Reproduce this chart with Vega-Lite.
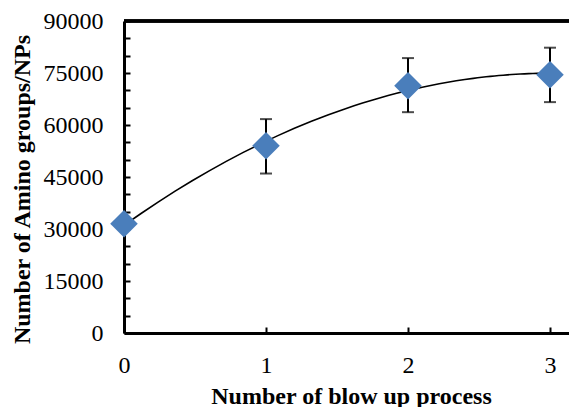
{
  "$schema": "https://vega.github.io/schema/vega-lite/v6.json",
  "autosize": "none",
  "width": 445,
  "height": 312,
  "padding": {"left": 124, "top": 21, "right": 0, "bottom": 74},
  "background": "white",
  "config": {
    "view": {"stroke": null},
    "font": "Liberation Serif",
    "axis": {
      "labelFont": "Liberation Serif",
      "titleFont": "Liberation Serif",
      "labelFontSize": 24,
      "titleFontSize": 24,
      "titleFontWeight": "bold",
      "labelColor": "black",
      "titleColor": "black",
      "domainColor": "black",
      "domainWidth": 3,
      "tickColor": "black",
      "tickWidth": 2,
      "tickSize": -6,
      "labelFlush": false,
      "labelOverlap": false,
      "grid": false
    }
  },
  "data": {
    "values": [
      {"blowup": 0, "amino": 31500, "lo": null, "hi": null},
      {"blowup": 1, "amino": 54000, "lo": 46000, "hi": 61700},
      {"blowup": 2, "amino": 71300, "lo": 63700, "hi": 79300},
      {"blowup": 3, "amino": 74500, "lo": 66600, "hi": 82300}
    ]
  },
  "encoding": {
    "x": {
      "field": "blowup",
      "type": "quantitative",
      "scale": {"domain": [0, 3.134], "nice": false, "zero": false},
      "axis": {
        "title": "Number of blow up process",
        "values": [0, 1, 2, 3],
        "format": "d",
        "labelFontSize": 24,
        "titleFontSize": 24,
        "labelPadding": 26,
        "titleBaseline": "alphabetic",
        "titleX": 227,
        "titleY": 70
      }
    },
    "y": {
      "field": "amino",
      "type": "quantitative",
      "scale": {"domain": [0, 90000], "nice": false},
      "axis": {
        "title": "Number of Amino groups/NPs",
        "values": [0, 5000, 10000, 15000, 20000, 25000, 30000, 35000, 40000, 45000, 50000, 55000, 60000, 65000, 70000, 75000, 80000, 85000, 90000],
        "labelExpr": "datum.value % 15000 === 0 ? format(datum.value, 'd') : ''",
        "labelFontSize": 24,
        "titleFontSize": 24,
        "labelPadding": 27,
        "titleBaseline": "alphabetic",
        "titleAngle": -90,
        "titleX": -95,
        "titleY": 168
      }
    }
  },
  "layer": [
    {
      "transform": [
        {"regression": "amino", "on": "blowup", "method": "poly", "order": 2, "extent": [0, 3]}
      ],
      "mark": {"type": "line", "color": "black", "strokeWidth": 1.6, "clip": true}
    },
    {
      "mark": {"type": "rule", "color": "black", "strokeWidth": 2},
      "encoding": {
        "y": {"field": "lo", "type": "quantitative"},
        "y2": {"field": "hi"}
      }
    },
    {
      "mark": {"type": "tick", "color": "black", "thickness": 2, "size": 12, "orient": "horizontal"},
      "encoding": {
        "y": {"field": "lo", "type": "quantitative"}
      }
    },
    {
      "mark": {"type": "tick", "color": "black", "thickness": 2, "size": 12, "orient": "horizontal"},
      "encoding": {
        "y": {"field": "hi", "type": "quantitative"}
      }
    },
    {
      "mark": {"type": "point", "shape": "diamond", "filled": true, "color": "#4a7ebb", "opacity": 1, "size": 760}
    },
    {
      "mark": {"type": "rule", "color": "black", "strokeWidth": 3},
      "encoding": {"x": null, "y": {"datum": 90000, "type": "quantitative"}}
    }
  ]
}
